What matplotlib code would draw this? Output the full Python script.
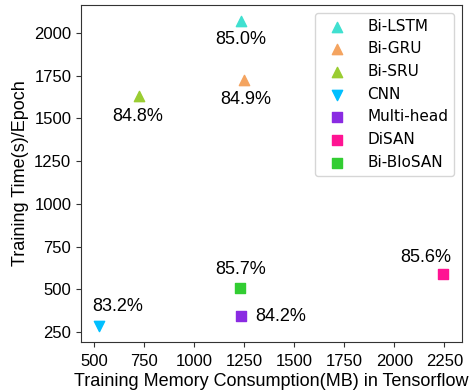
import matplotlib
matplotlib.use('Agg')
import matplotlib.pyplot as plt

plt.rcParams['font.family'] = ['Liberation Sans', 'DejaVu Sans']

models = ['Bi-LSTM', 'Bi-GRU', 'Bi-SRU', 'CNN', 'Multi-head', 'DiSAN', 'Bi-BloSAN']
memory_mb = [1232, 1247, 723, 525, 1232, 2245, 1230]
time_per_epoch = [2072, 1726, 1629, 287, 343, 588, 508]
accuracy = ['85.0%', '84.9%', '84.8%', '83.2%', '84.2%', '85.6%', '85.7%']

markers = ['^', '^', '^', 'v', 's', 's', 's']
colors = ['turquoise', 'sandybrown', 'yellowgreen', 'deepskyblue',
          'blueviolet', 'deeppink', 'limegreen']
# label offsets in pixels (dx, dy) and alignment
label_pos = [(0, -19, 'center'), (2, -20, 'center'), (-1, -20, 'center'),
             (18, 19, 'center'), (15, 0, 'left'), (-18, 17, 'center'),
             (0, 18, 'center')]

fig = plt.figure(figsize=(4.74, 3.9), dpi=100)
ax = fig.add_axes([81 / 474, 48 / 390, 381 / 474, 337 / 390])

for name, x, y, m, c, acc, (dx, dy, ha) in zip(models, memory_mb, time_per_epoch,
                                                markers, colors, accuracy, label_pos):
    ax.scatter(x, y, marker=m, color=c, s=55, label=name, zorder=3)
    ax.annotate(acc, (x, y), xytext=(dx, dy), textcoords='offset pixels',
                ha=ha, va='center', fontsize=13)

ax.set_xlim(434, 2338)
ax.set_ylim(191, 2164)
ax.set_xticks([500, 750, 1000, 1250, 1500, 1750, 2000, 2250])
ax.set_yticks([250, 500, 750, 1000, 1250, 1500, 1750, 2000])
ax.tick_params(labelsize=12, color='#333333')
ax.tick_params(axis='x', pad=5)
for s in ax.spines.values():
    s.set_color('#333333')

ax.set_xlabel('Training Memory Consumption(MB) in Tensorflow', fontsize=13, labelpad=3)
ax.set_ylabel('Training Time(s)/Epoch', fontsize=13)
ax.legend(loc='upper right', prop={'family': 'DejaVu Sans', 'size': 11},
          handletextpad=1.0)

fig.savefig('out.png', dpi=100)
